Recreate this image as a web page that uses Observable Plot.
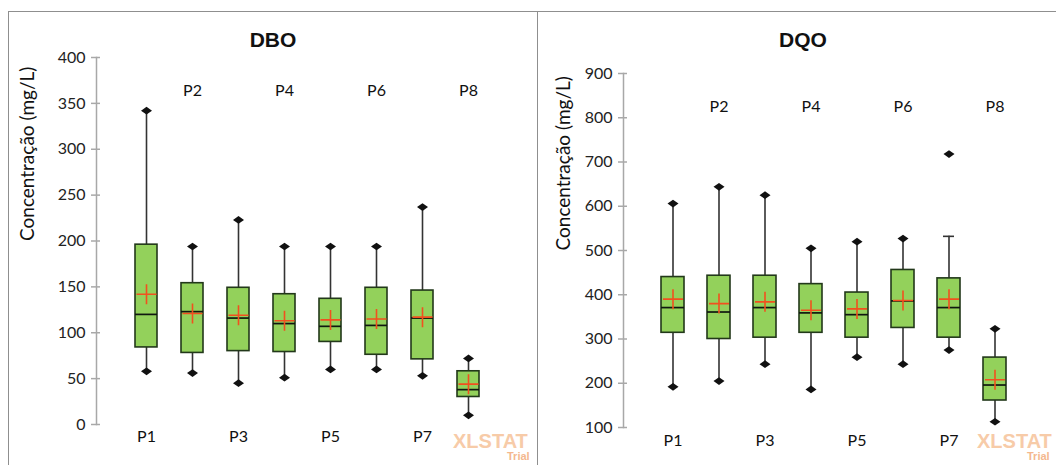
<!DOCTYPE html>
<html><head><meta charset="utf-8">
<script src="https://cdn.jsdelivr.net/npm/d3@7"></script>
<script src="https://cdn.jsdelivr.net/npm/@observablehq/plot@0.6"></script>
<style>
body{margin:0;background:#fff;}
#wrap{position:relative;width:1056px;height:465px;overflow:hidden;background:#fff;font-family:Lato,"Open Sans",sans-serif;}
.frame{position:absolute;top:11px;height:480px;border:1px solid #8f8f8f;box-sizing:border-box;}
.fig{position:absolute;top:0;}
.title{position:absolute;font-family:"Liberation Sans",Arial,sans-serif;font-weight:bold;font-size:21px;color:#111;transform:translateX(-50%);}
.wm{position:absolute;font-family:"Liberation Sans",Arial,sans-serif;font-weight:bold;font-size:20px;color:#f7cba8;white-space:nowrap;}
.wm2{position:absolute;font-family:"Liberation Sans",Arial,sans-serif;font-weight:bold;font-size:11px;color:#f4b88e;white-space:nowrap;}
</style></head>
<body><div id="wrap">
<div class="frame" style="left:8px;width:530px;"></div>
<div class="frame" style="left:537px;width:540px;"></div>
<div id="left" class="fig" style="left:0;"></div>
<div id="right" class="fig" style="left:537px;"></div>
<div class="title" style="left:273px;top:28px;">DBO</div>
<div class="title" style="left:803px;top:28px;">DQO</div>
<div class="wm" style="left:453px;top:430px;">XLSTAT</div>
<div class="wm2" style="left:507px;top:450px;">Trial</div>
<div class="wm" style="left:977px;top:430px;">XLSTAT</div>
<div class="wm2" style="left:1027px;top:450px;">Trial</div>
</div>
<script>
const categories = ["P1","P2","P3","P4","P5","P6","P7","P8"];

// DBO (mg/L)
const dboMin = [58, 56, 45, 51, 60, 60, 53, 10];
const dboQ1 = [84, 78, 80, 79, 90, 76, 71, 30];
const dboMedian = [120, 123, 116, 110, 107, 108, 116, 38];
const dboQ3 = [196, 154, 149, 142, 137, 149, 146, 58];
const dboWhiskerHigh = [342, 194, 223, 194, 194, 194, 237, 72];
const dboMax = [342, 194, 223, 194, 194, 194, 237, 72];
const dboMean = [142, 121, 119, 113, 114, 115, 117, 44];
const dboTicks = [0, 50, 100, 150, 200, 250, 300, 350, 400];

// DQO (mg/L)
const dqoMin = [192, 205, 243, 186, 259, 243, 275, 113];
const dqoQ1 = [314, 300, 303, 314, 303, 325, 303, 161];
const dqoMedian = [371, 361, 371, 359, 355, 386, 371, 196];
const dqoQ3 = [440, 443, 443, 424, 405, 456, 437, 258];
const dqoWhiskerHigh = [606, 644, 625, 505, 520, 527, 532, 323];
const dqoMax = [606, 644, 625, 505, 520, 527, 718, 323];
const dqoMean = [390, 380, 384, 365, 368, 387, 390, 208];
const dqoTicks = [100, 200, 300, 400, 500, 600, 700, 800, 900];

function rowsOf(mn, q1, med, q3, wh, mx, mean) {
  return categories.map((cat, i) => ({cat, i, min: mn[i], q1: q1[i], median: med[i], q3: q3[i], whiskerHigh: wh[i], max: mx[i], mean: mean[i]}));
}

const crossSymbol = {draw(ctx, size) {
  const r = Math.sqrt(size / Math.PI);
  ctx.moveTo(-r, 0); ctx.lineTo(r, 0);
  ctx.moveTo(0, -r); ctx.lineTo(0, r);
}};
const diamondSymbol = {draw(ctx, size) {
  const r = Math.sqrt(size / Math.PI);
  ctx.moveTo(-r, 0); ctx.lineTo(0, -0.7 * r); ctx.lineTo(r, 0); ctx.lineTo(0, 0.7 * r); ctx.closePath();
}};

function panel(rows, cfg) {
  const ends = rows.flatMap(d => [{cat: d.cat, v: d.min}, {cat: d.cat, v: d.max}]);
  const caps = rows.filter(d => d.whiskerHigh !== d.max);
  const odd = rows.filter(d => d.i % 2 === 0);
  const even = rows.filter(d => d.i % 2 === 1);
  const whisk = "#333";
  return Plot.plot({
    width: cfg.width, height: 465,
    marginTop: cfg.mt, marginBottom: cfg.mb, marginLeft: cfg.ml, marginRight: 0,
    style: {fontFamily: "Lato, 'Open Sans', sans-serif", fontSize: "16px", background: "transparent", color: "#222", overflow: "visible"},
    x: {type: "band", domain: categories, range: cfg.xr, paddingInner: cfg.pad, paddingOuter: 0, axis: null},
    y: {domain: cfg.yd, axis: null},
    marks: [
      Plot.frame({anchor: "left", stroke: "#a8a8a8", strokeWidth: 1.5}),
      Plot.axisY(cfg.ticks, {tickSize: 9, dx: 4, tickPadding: 6, stroke: "#a8a8a8", strokeWidth: 1.5, label: null, fill: "#222"}),
      Plot.text(["Concentração (mg/L)"], {frameAnchor: "left", rotate: -90, dx: cfg.ldx, fontSize: 19, fill: "#111"}),
      Plot.ruleX(rows, {x: "cat", y1: "min", y2: "q1", stroke: whisk, strokeWidth: 1.6}),
      Plot.ruleX(rows, {x: "cat", y1: "q3", y2: "whiskerHigh", stroke: whisk, strokeWidth: 1.6}),
      Plot.tickY(caps, {x: "cat", y: "whiskerHigh", stroke: whisk, strokeWidth: 1.6, insetLeft: 6, insetRight: 6}),
      Plot.barY(rows, {x: "cat", y1: "q1", y2: "q3", fill: "#93d15b", stroke: "#22381a", strokeWidth: 1.6}),
      Plot.tickY(rows, {x: "cat", y: "median", stroke: "#101810", strokeWidth: 1.7}),
      Plot.dot(rows, {x: "cat", y: "mean", symbol: crossSymbol, r: 10, stroke: "#f2501f", strokeWidth: 1.6, fill: "none"}),
      Plot.dot(ends, {x: "cat", y: "v", symbol: diamondSymbol, r: 5.5, fill: "#111", stroke: "none"}),
      Plot.text(odd, {x: "cat", text: "cat", frameAnchor: "bottom", dy: cfg.bdy, fill: "#111"}),
      Plot.text(even, {x: "cat", text: "cat", frameAnchor: "top", dy: cfg.tdy, fill: "#111"})
    ]
  });
}

document.getElementById("left").append(panel(
  rowsOf(dboMin, dboQ1, dboMedian, dboQ3, dboWhiskerHigh, dboMax, dboMean),
  {width: 537, mt: 57, mb: 41, ml: 96, xr: [132, 481], pad: 0.53, yd: [0, 400], ticks: dboTicks, ldx: -69, bdy: 17, tdy: 27}
));
document.getElementById("right").append(panel(
  rowsOf(dqoMin, dqoQ1, dqoMedian, dqoQ3, dqoWhiskerHigh, dqoMax, dqoMean),
  {width: 519, mt: 73, mb: 38, ml: 86, xr: [121.25, 472.75], pad: 0.4985, yd: [100, 900], ticks: dqoTicks, ldx: -60, bdy: 18, tdy: 27}
));
</script>
</body></html>
